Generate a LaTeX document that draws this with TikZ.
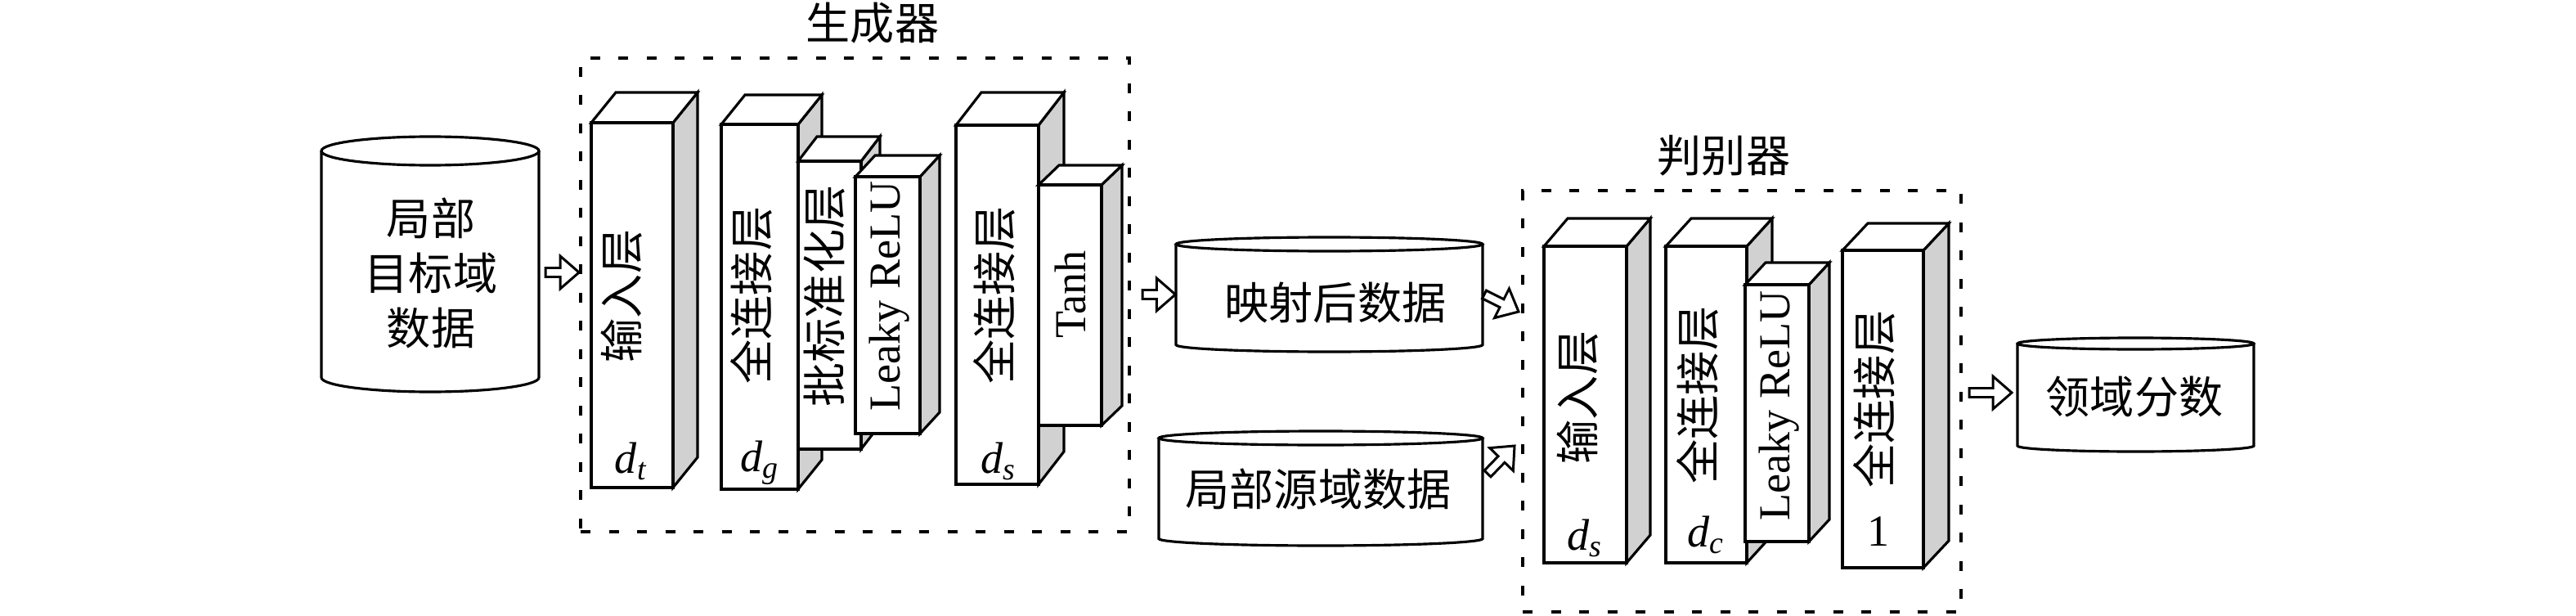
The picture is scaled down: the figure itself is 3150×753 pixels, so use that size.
\documentclass[tikz,border=0pt]{standalone}
\usepackage{fontspec}
\setmainfont{Liberation Serif}
\newfontfamily\cjk{Noto Sans CJK SC}
\usetikzlibrary{calc,fit}
\definecolor{sidegray}{gray}{0.82}
\newcommand{\nnlayer}[7]{%
  \draw[blk, fill=sidegray] (#4,#3) -- ({#4+#6},{#3-#7}) -- ({#4+#6},{#5-#7}) -- (#4,#5) -- cycle;
  \draw[blk, fill=white] (#2,#3) -- ({#2+#6},{#3-#7}) -- ({#4+#6},{#3-#7}) -- (#4,#3) -- cycle;
  \node[blk, fill=white, inner sep=0, fit={(#2,#3) (#4,#5)}] (#1) {};
}
\newcommand{\cylshape}[6]{%
  \pgfmathsetmacro\cxc{(#2+#4)/2}\pgfmathsetmacro\crx{(#4-#2)/2}
  \draw[ln] (#2,{#3+#6}) -- (#2,{#5-#6}) arc[start angle=180, end angle=0, x radius=\crx, y radius=#6] -- (#4,{#3+#6});
  \draw[ln] (\cxc,{#3+#6}) ellipse[x radius=\crx, y radius=#6];
  \node[inner sep=0, fit={(#2,#3) (#4,#5)}] (#1) {};
}
\newcommand{\fatarrow}[2]{%
  \coordinate (tmpM) at ($(#2)!2.3mm!(#1)$);
  \draw[arr] ($(#1)!0.55mm!90:(#2)$) -- ($(tmpM)!0.55mm!90:(#2)$) -- ($(tmpM)!2mm!90:(#2)$) -- (#2)
    -- ($(tmpM)!2mm!-90:(#2)$) -- ($(tmpM)!0.55mm!-90:(#2)$) -- ($(#1)!0.55mm!-90:(#2)$) -- cycle;
}
\begin{document}
\begin{tikzpicture}[x=0.1mm,y=-0.1mm,
  ln/.style={line width=0.9pt, draw=black},
  blk/.style={line width=0.9pt, draw=black, line join=miter},
  dashbox/.style={draw=black, line width=1.1pt, dash pattern=on 1.2mm off 2.25mm, inner sep=0},
  arr/.style={line width=0.85pt, draw=black, fill=white, line join=miter},
  lbl/.style={font=\fontsize{15.4pt}{19.07pt}\selectfont, inner sep=0},
  cjkt/.style={font=\fontsize{15.4pt}{19.07pt}\selectfont\cjk, inner sep=0, align=center},
]
\useasboundingbox (0,0) rectangle (3150,753);

% dashed frames
\node[dashbox, fit={(710,71) (1381,650)}] (gen) {};
\node[dashbox, fit={(1862,233) (2398,748)}] (disc) {};
\node[cjkt] (gentitle) at (1067,28) {生成器};
\node[cjkt] (disctitle) at (2108,190) {判别器};

% cylinders
\cylshape{cyl1}{393}{167}{659}{479}{17.5}
\cylshape{cyl2}{1438}{290}{1813}{430}{8.5}
\cylshape{cyl3}{1417}{527}{1813}{667}{8.5}
\cylshape{cyl4}{2467}{413}{2756}{552}{7}
\node[cjkt] (cyl1t) at (527,334) {局部\\目标域\\数据};
\node[cjkt] (cyl2t) at (1633,370) {映射后数据};
\node[cjkt] (cyl3t) at (1612,598) {局部源域数据};
\node[cjkt] (cyl4t) at (2610,485) {领域分数};

% generator layers
\nnlayer{g1}{723}{150}{823}{596}{30}{37}
\nnlayer{g2}{882}{152}{976}{598}{29}{36}
\nnlayer{g3}{976}{197}{1053}{549}{23}{30}
\nnlayer{g4}{1046}{216}{1125}{530}{24}{26}
\nnlayer{g5}{1169}{153}{1270}{592}{31}{40}
\nnlayer{g6}{1270}{226}{1347}{520}{25}{24}

% discriminator layers
\nnlayer{d1}{1888}{301}{1989}{688}{29}{34}
\nnlayer{d2}{2037}{301}{2136}{688}{31}{34}
\nnlayer{d3}{2134}{348}{2212}{662}{25}{27}
\nnlayer{d4}{2253}{306}{2352}{694}{31}{33}

% layer texts
\node[cjkt, rotate=90] (g1t) at (760,362) {输入层};
\node[cjkt, rotate=90] (g2t) at (919,361) {全连接层};
\node[cjkt, rotate=90] (g3t) at (1008,362) {批标准化层};
\node[lbl, rotate=90] (g4t) at (1088,362) {Leaky ReLU};
\node[cjkt, rotate=90] (g5t) at (1216,361) {全连接层};
\node[lbl, rotate=90] (g6t) at (1309,360) {Tanh};
\node[lbl] (g1d) at (772,564) {\textit{d}\textsubscript{\textit{t}}};
\node[lbl] (g2d) at (929,566) {\textit{d}\textsubscript{\textit{g}}};
\node[lbl] (g5d) at (1221,564) {\textit{d}\textsubscript{\textit{s}}};

\node[cjkt, rotate=90] (d1t) at (1929,486) {输入层};
\node[cjkt, rotate=90] (d2t) at (2076,483) {全连接层};
\node[lbl, rotate=90] (d3t) at (2176,496) {Leaky ReLU};
\node[cjkt, rotate=90] (d4t) at (2292,488) {全连接层};
\node[lbl] (d1d) at (1938,658) {\textit{d}\textsubscript{\textit{s}}};
\node[lbl] (d2d) at (2086,654) {\textit{d}\textsubscript{\textit{c}}};
\node[lbl] (d4d) at (2297,650) {1};

% arrows
\coordinate (a1s) at (667,333);
\coordinate (a1e) at (gen.west |- a1s);
\fatarrow{a1s}{a1e}
\coordinate (a2s) at (1397,360);
\coordinate (a2e) at (cyl2.west |- a2s);
\fatarrow{a2s}{a2e}
\coordinate (a3s) at (1815,360);
\coordinate (a3e) at (1857,381);
\fatarrow{a3s}{a3e}
\coordinate (a4s) at (1819,579);
\coordinate (a4e) at (1852,545);
\fatarrow{a4s}{a4e}
\coordinate (a5s) at (2408,480);
\coordinate (a5e) at (2460,480);
\fatarrow{a5s}{a5e}
\end{tikzpicture}
\end{document}
